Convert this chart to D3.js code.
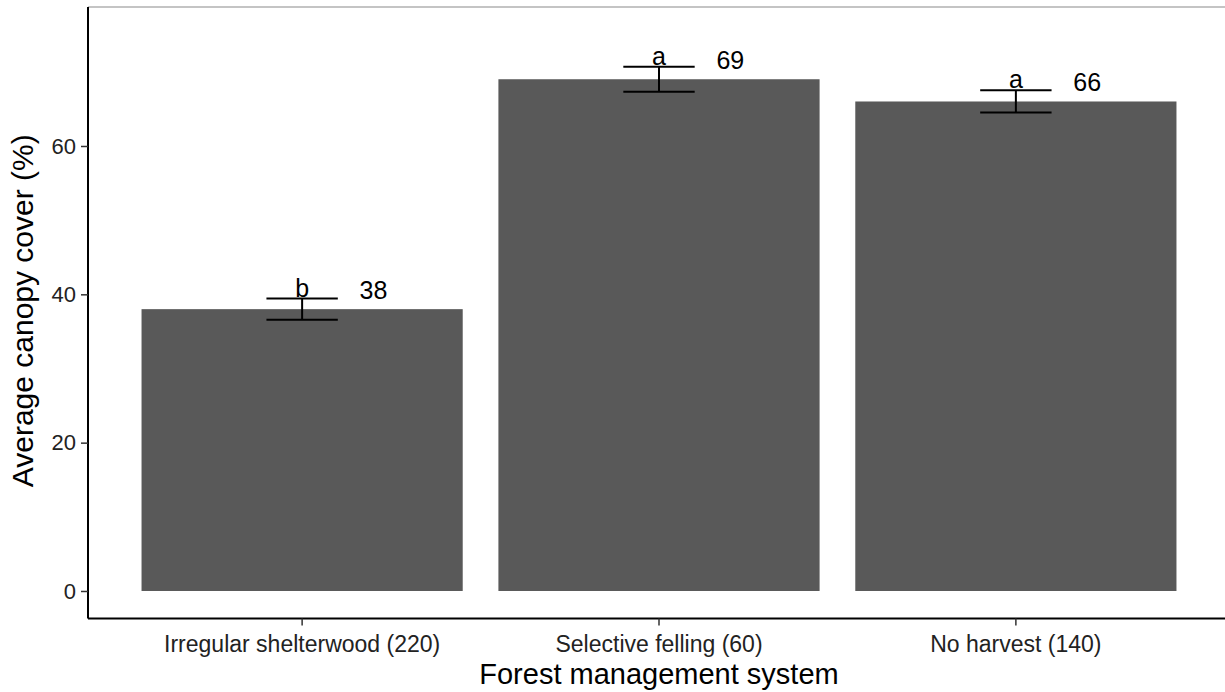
<!DOCTYPE html>
<html>
<head>
<meta charset="utf-8">
<script src="https://cdn.jsdelivr.net/npm/d3@7"></script>
<style>
  html, body { margin: 0; padding: 0; background: #fff; }
  svg { display: block; font-family: "Liberation Sans", Arial, sans-serif; }
</style>
</head>
<body>
<svg id="chart" width="1225" height="692"></svg>
<script>
// Canopy cover by forest management system (mean ± SE, letters = significance groups)
const categories = ["Irregular shelterwood (220)", "Selective felling (60)", "No harvest (140)"];
const means = [38, 69, 66];
const errors = [1.43, 1.7, 1.5];
const groupLetters = ["b", "a", "a"];
const valueLabels = ["38", "69", "66"];
const yTicks = [0, 20, 40, 60];

const W = 1225, H = 692;
const panel = { left: 88, right: 1230, top: 7, bottom: 618.5 };

const svg = d3.select("#chart");

const x = d3.scaleBand()
  .domain(categories)
  .range([panel.left, panel.right])
  .paddingInner(0.1)
  .paddingOuter(0.15);

const y = d3.scaleLinear()
  .domain([-3.71, 78.74])
  .range([panel.bottom, panel.top]);

const step = x.step();
const cx = c => x(c) + x.bandwidth() / 2;

// top border of the plotting region
svg.append("line")
  .attr("x1", panel.left).attr("x2", W)
  .attr("y1", panel.top).attr("y2", panel.top)
  .attr("stroke", "#8a8a8a").attr("stroke-width", 1.2);

// bars
svg.append("g").selectAll("rect")
  .data(categories)
  .join("rect")
  .attr("x", d => x(d))
  .attr("width", x.bandwidth())
  .attr("y", (d, i) => y(means[i]))
  .attr("height", (d, i) => y(0) - y(means[i]))
  .attr("fill", "#595959");

// error bars
const eb = svg.append("g").attr("stroke", "#000").attr("stroke-width", 2).attr("fill", "none");
const capHalf = step * 0.1;
categories.forEach((c, i) => {
  const xc = cx(c);
  const lo = y(means[i] - errors[i]), hi = y(means[i] + errors[i]);
  eb.append("line").attr("x1", xc).attr("x2", xc).attr("y1", lo).attr("y2", hi);
  eb.append("line").attr("x1", xc - capHalf).attr("x2", xc + capHalf).attr("y1", lo).attr("y2", lo);
  eb.append("line").attr("x1", xc - capHalf).attr("x2", xc + capHalf).attr("y1", hi).attr("y2", hi);
});

// significance letters sitting on the upper caps
svg.append("g").selectAll("text")
  .data(categories)
  .join("text")
  .attr("x", d => cx(d))
  .attr("y", (d, i) => y(means[i] + errors[i]) - 2)
  .attr("text-anchor", "middle")
  .attr("font-size", 25)
  .attr("fill", "#000")
  .text((d, i) => groupLetters[i]);

// mean values to the right of each error bar
svg.append("g").selectAll("text")
  .data(categories)
  .join("text")
  .attr("x", d => cx(d) + step * 0.2)
  .attr("y", (d, i) => y(means[i] + 2.6))
  .attr("dy", "0.35em")
  .attr("text-anchor", "middle")
  .attr("font-size", 25)
  .attr("fill", "#000")
  .text((d, i) => valueLabels[i]);

// y axis
const yAxis = svg.append("g")
  .attr("transform", `translate(${panel.left},0)`)
  .call(d3.axisLeft(y).tickValues(yTicks).tickSize(7).tickPadding(5).tickFormat(d3.format("d")));
yAxis.select(".domain").attr("d", `M0,${panel.top}V${panel.bottom}`).attr("stroke", "#000").attr("stroke-width", 2);
yAxis.selectAll(".tick line").attr("stroke", "#333").attr("stroke-width", 1.5);
yAxis.selectAll(".tick text").attr("font-size", 22).attr("fill", "#222").attr("font-family", "Liberation Sans, Arial, sans-serif");

// x axis
const xAxis = svg.append("g")
  .attr("transform", `translate(0,${panel.bottom})`)
  .call(d3.axisBottom(x).tickSize(7).tickPadding(10));
xAxis.select(".domain").attr("d", `M${panel.left},0H${W}`).attr("stroke", "#000").attr("stroke-width", 2);
xAxis.selectAll(".tick line").attr("stroke", "#333").attr("stroke-width", 1.5);
xAxis.selectAll(".tick text").attr("font-size", 23).attr("fill", "#222").attr("font-family", "Liberation Sans, Arial, sans-serif");

// axis titles
svg.append("text")
  .attr("x", (panel.left + panel.right) / 2)
  .attr("y", 684)
  .attr("text-anchor", "middle")
  .attr("font-size", 29)
  .attr("fill", "#000")
  .text("Forest management system");

svg.append("text")
  .attr("transform", `translate(33,${(panel.top + panel.bottom) / 2 - 2}) rotate(-90)`)
  .attr("text-anchor", "middle")
  .attr("font-size", 30)
  .attr("fill", "#000")
  .text("Average canopy cover (%)");
</script>
</body>
</html>
